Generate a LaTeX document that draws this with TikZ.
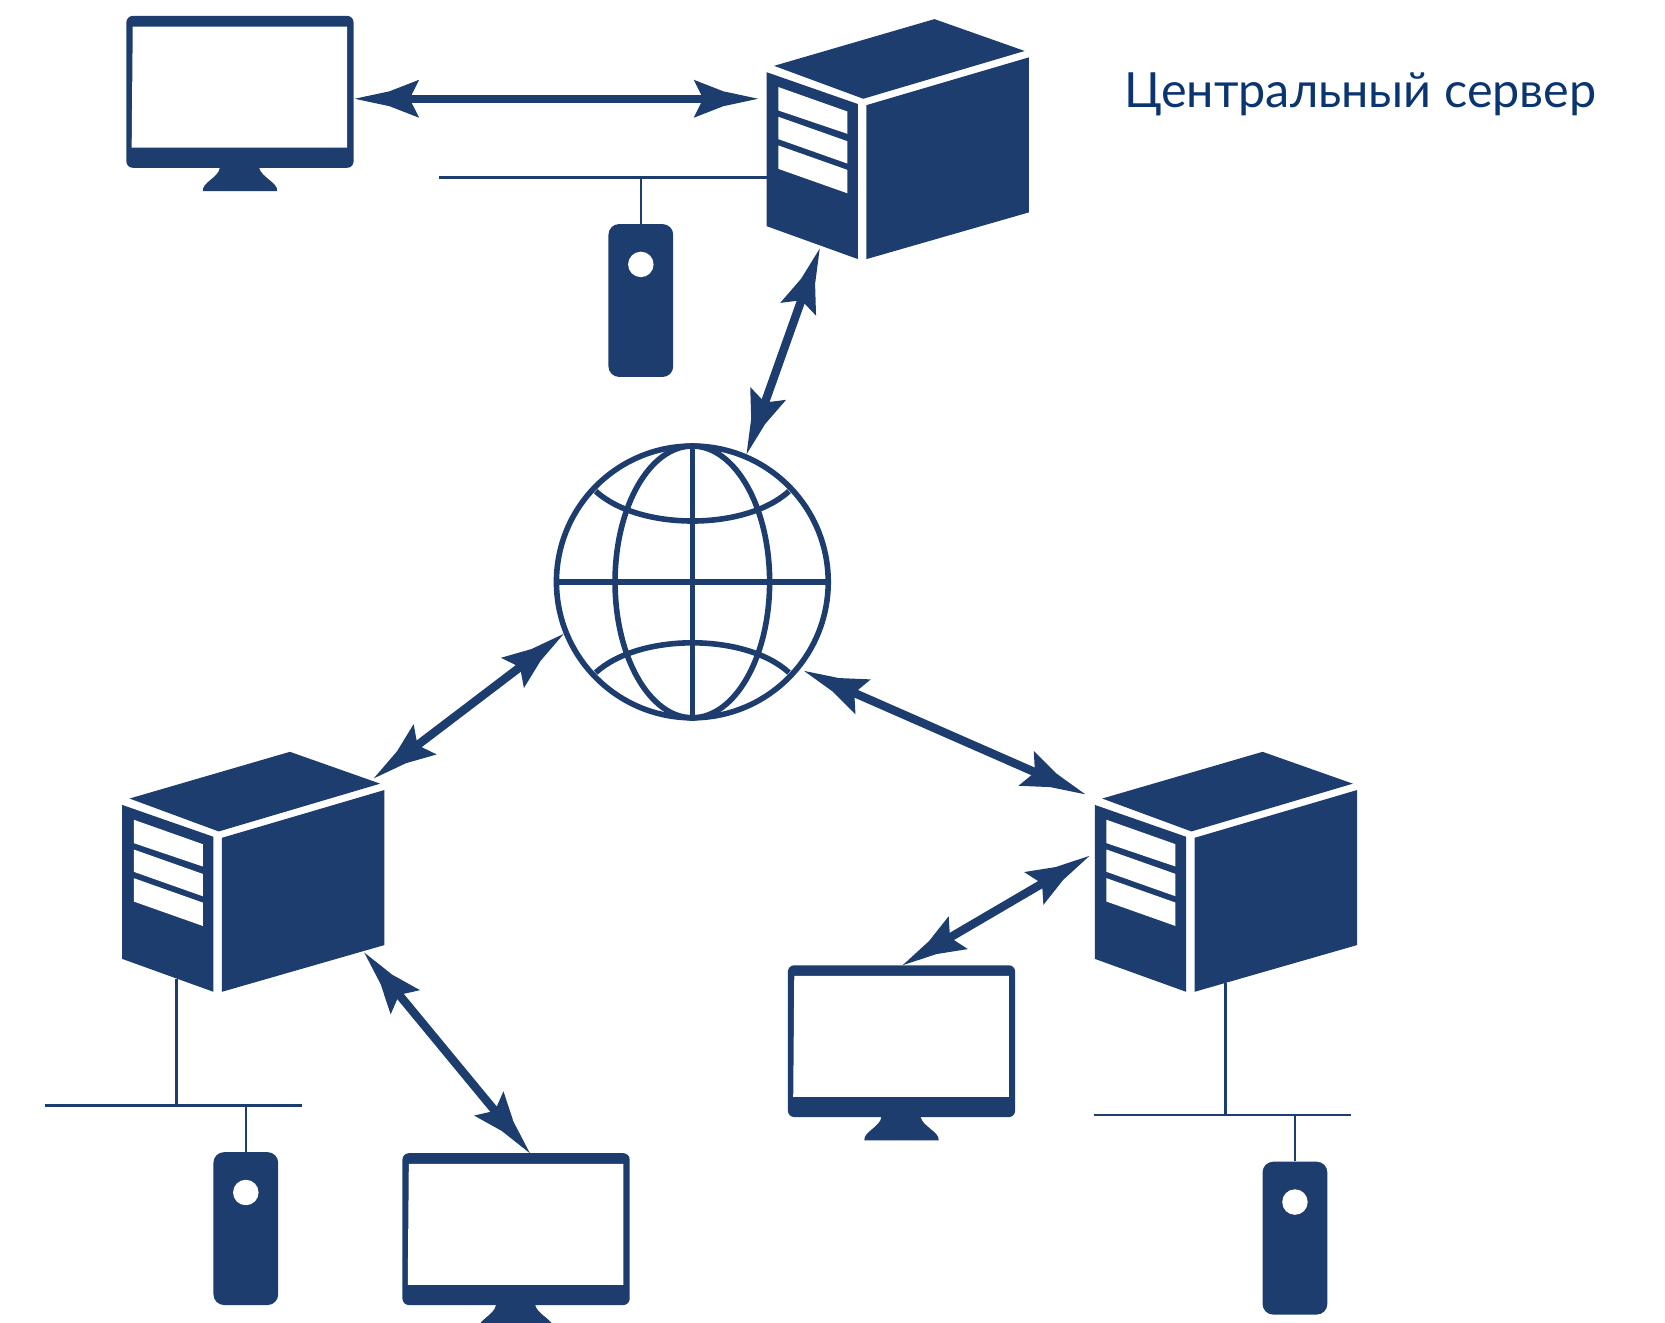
\documentclass[tikz,border=0pt]{standalone}
\usepackage{fontspec}
\usetikzlibrary{positioning}
\newfontfamily\labelfont{Lato}
\definecolor{netblue}{HTML}{1C3D6E}
\definecolor{labelblue}{HTML}{0A3570}

\pgfdeclarearrow{
  name = netbarb,
  setup code = {
    \pgfarrowssettipend{0pt}
    \pgfarrowssetlineend{-25pt}
    \pgfarrowssetvisualbackend{-30pt}
    \pgfarrowssetbackend{-34.6pt}
  },
  drawing code = {
    \pgfpathmoveto{\pgfpoint{0pt}{0pt}}
    \pgfpathlineto{\pgfpoint{-18.7pt}{4pt}}
    \pgfpathlineto{\pgfpoint{-34.6pt}{10.2pt}}
    \pgfpathlineto{\pgfpoint{-30.6pt}{2.3pt}}
    \pgfpathlineto{\pgfpoint{-30.6pt}{-2.3pt}}
    \pgfpathlineto{\pgfpoint{-34.6pt}{-10.2pt}}
    \pgfpathlineto{\pgfpoint{-18.7pt}{-4pt}}
    \pgfpathclose
    \pgfusepathqfill
  },
}

\tikzset{
  link/.style={<->, color=netblue, line width=4.5pt},
  bus/.style={color=netblue, line width=1.4pt},
  globeline/.style={netblue, line width=3pt},
  towerbox/.style={fill=netblue, rounded corners=0.2cm, minimum width=1.22cm, minimum height=2.88cm, inner sep=0pt},
  led/.style={circle, fill=white, minimum size=0.48cm, inner sep=0pt},
  server/.pic={
    \fill[netblue] (0,0) -- (86,30) -- (86,176) -- (0,145) -- cycle;
    \fill[white] (11,14) -- (76,37) -- (76,58) -- (11,36) -- cycle;
    \fill[white] (11,42) -- (76,65) -- (76,86) -- (11,63) -- cycle;
    \fill[white] (11,69) -- (76,92) -- (76,114) -- (11,91) -- cycle;
    \fill[netblue] (7,-6) -- (158,-50) -- (243,-20) -- (91,25) -- cycle;
    \fill[netblue] (94,31) -- (247,-14) -- (247,132) -- (94,176) -- cycle;
    \coordinate (-left) at (0,0);
    \coordinate (-w) at (-8,25);
    \coordinate (-sw) at (50,166);
    \coordinate (-ne) at (237,-25);
    \coordinate (-se) at (228,139);
    \coordinate (-nw) at (-9,-10);
    \coordinate (-w2) at (-5,48);
    \coordinate (-busl) at (51,164);
    \coordinate (-busr) at (123,168);
  },
  monitor/.pic={
    \fill[netblue, rounded corners=0.12cm] (0,0) rectangle (214,143);
    \fill[netblue] (88,143) .. controls (87,152) and (71,157) .. (72,165) -- (142,165) .. controls (143,157) and (127,152) .. (125,143) -- cycle;
    \fill[white] (6,10) -- (208,10) -- (208,124) -- (5,124) -- cycle;
    \coordinate (-e) at (215,78);
    \coordinate (-n1) at (120,0);
    \coordinate (-n2) at (108,0);
  },
}

\begin{document}
\begin{tikzpicture}[x=0.02cm, y=-0.02cm, >=netbarb]
    \clip (0,0) rectangle (1568,1245.9);

    \pic (srvA) at (722,68) {server};
    \pic (srvB) at (115,758) {server};
    \pic (srvC) at (1031,758) {server};

    \pic (monA) at (119,15) {monitor};
    \pic (monB) at (379,1086) {monitor};
    \pic (monC) at (742,909) {monitor};

    \node (towerA) [towerbox] at (603.5,283) {};
    \node (towerB) [towerbox] at (231.5,1157) {};
    \node (towerC) [towerbox] at (1219.5,1166) {};
    \node (ledA) [led, below=0.52cm of towerA.north] {};
    \node (ledB) [led, below=0.52cm of towerB.north] {};
    \node (ledC) [led, below=0.52cm of towerC.north] {};

    \coordinate (busA) at (413,167);
    \coordinate (busB) at (42,1041);
    \coordinate (busBend) at (284,1041);
    \coordinate (busC) at (1030,1050);
    \coordinate (busCend) at (1272,1050);

    \draw[bus] (busA) -- (srvA-left |- busA);
    \draw[bus] (towerA.north) -- (towerA.north |- busA);
    \draw[bus] (busB) -- (busBend);
    \draw[bus] (srvB-busl) -- (srvB-busl |- busB);
    \draw[bus] (towerB.north) -- (towerB.north |- busB);
    \draw[bus] (busC) -- (busCend);
    \draw[bus] (srvC-busr) -- (srvC-busr |- busC);
    \draw[bus] (towerC.north) -- (towerC.north |- busC);

    \node (globe) [circle, draw=netblue, line width=3pt, minimum size=5.12cm, inner sep=0pt] at (652,548) {};
    \draw[globeline] (globe.center) ellipse [x radius=1.456cm, y radius=2.56cm];
    \draw[globeline] (globe.north) -- (globe.south);
    \draw[globeline] (globe.west) -- (globe.east);
    \draw[globeline] (561,462.6) .. controls (602,500) and (702,500) .. (743,462.6);
    \draw[globeline] (561,633.4) .. controls (602,596) and (702,596) .. (743,633.4);

    \draw[link] (monA-e) -- (srvA-w);
    \draw[link] (srvA-sw) -- (globe.67);
    \draw[link] (globe.202) -- (srvB-ne);
    \draw[link] (srvB-se) -- (monB-n1);
    \draw[link, shorten <=0.08cm] (globe.-39) -- (srvC-nw);
    \draw[link] (srvC-w2) -- (monC-n2);

    \node (title) [anchor=base west, inner sep=0pt, text=labelblue, font=\labelfont\fontsize{26}{26}\selectfont] at (1059,101) {Центральный сервер};
\end{tikzpicture}
\end{document}
